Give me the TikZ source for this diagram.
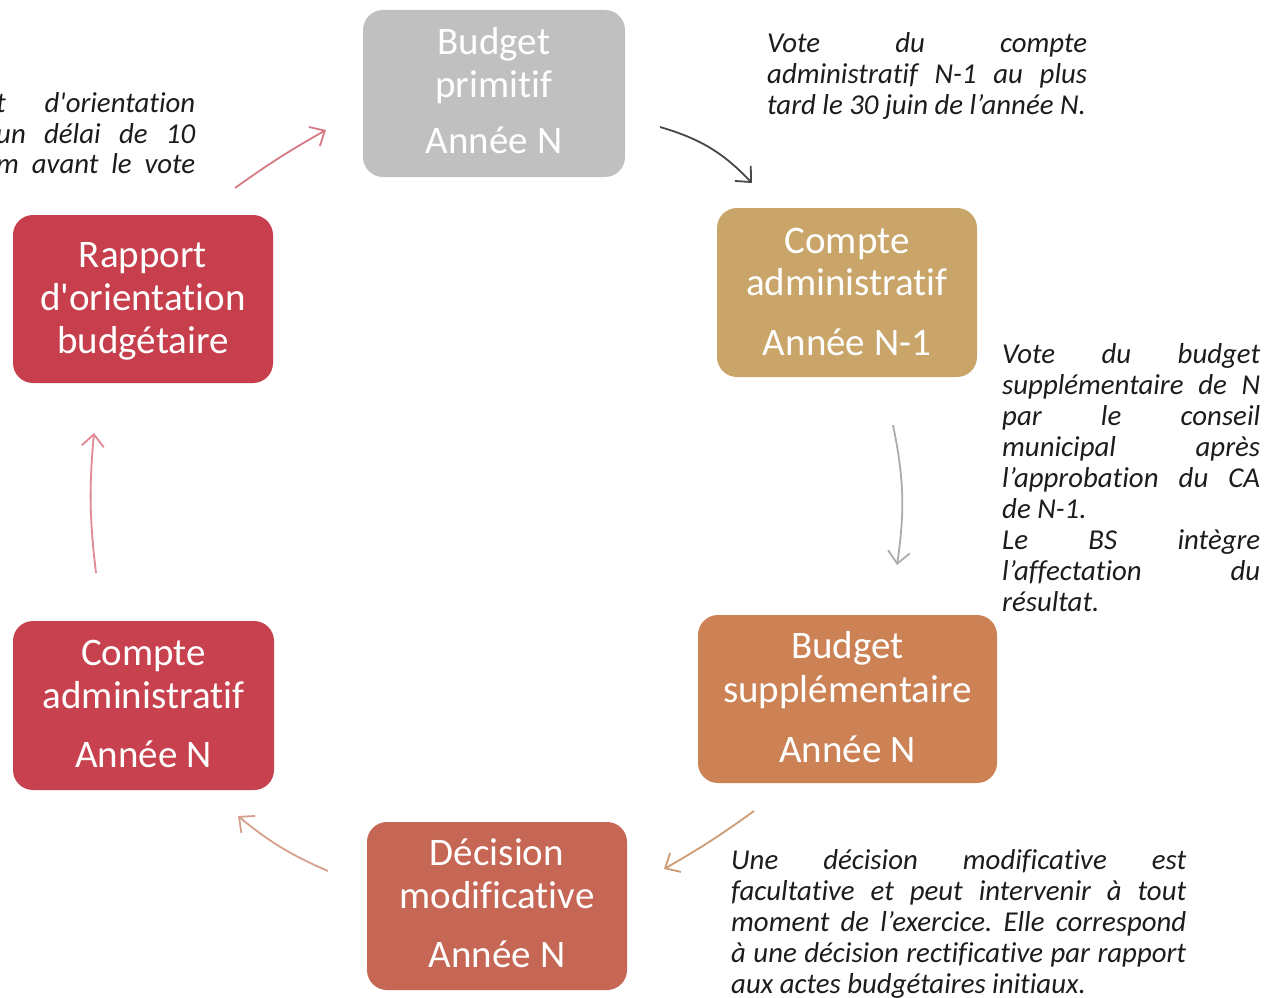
\documentclass[tikz,border=0pt]{standalone}
\usepackage{fontspec}
\setmainfont{Carlito}[Ligatures={TeXOff,NoCommon}]
\usetikzlibrary{arrows.meta}
\definecolor{cbp}{RGB}{192,192,192}
\definecolor{cca}{RGB}{201,165,106}
\definecolor{cbs}{RGB}{204,130,84}
\definecolor{cdm}{RGB}{198,102,84}
\definecolor{ccn}{RGB}{199,66,78}
\definecolor{cra}{RGB}{199,62,76}
\definecolor{notec}{RGB}{28,28,28}
\definecolor{ar1}{RGB}{214,122,134}
\definecolor{ar2}{RGB}{72,72,72}
\definecolor{ar3}{RGB}{172,172,172}
\definecolor{ar4}{RGB}{206,156,116}
\definecolor{ar5}{RGB}{214,160,140}
\definecolor{ar6}{RGB}{224,136,148}
\frenchspacing
\tikzset{
  box/.style={rounded corners=20pt, draw=none, inner sep=0pt},
  boxtext/.style={text=white, inner sep=0pt, anchor=base, font=\fontsize{39}{44}\selectfont},
  note/.style={text=notec, inner sep=0pt, anchor=base west, align=justify,
     font=\fontsize{28.8}{31}\selectfont\itshape\frenchspacing},
  cyc/.style={line width=1.8pt, -{Straight Barb[length=12pt,width=22pt]}}
}
\begin{document}
\begin{tikzpicture}[x=1pt,y=-1pt]
\useasboundingbox[fill=white] (0,0) rectangle (1272,998);
% boxes
\node[box, fill=cbp, minimum width=262pt, minimum height=167pt] (bp) at (494,93.5) {};
\node[box, fill=cca, minimum width=260pt, minimum height=169pt] (ca1) at (847,292.5) {};
\node[box, fill=cbs, minimum width=299pt, minimum height=168pt] (bs) at (847.5,699) {};
\node[box, fill=cdm, minimum width=260pt, minimum height=168pt] (dm) at (497,906) {};
\node[box, fill=ccn, minimum width=261pt, minimum height=169pt] (can) at (143.5,705.5) {};
\node[box, fill=cra, minimum width=260pt, minimum height=168pt] (ra) at (143,299) {};
% box texts
\node[boxtext] (bp1) at (494,55) {Budget};
\node[boxtext] (bp2) at (494,97) {primitif};
\node[boxtext] (bp3) at (494,153) {Année N};
\node[boxtext] (ca11) at (847,253) {Compte};
\node[boxtext] (ca12) at (847,295) {administratif};
\node[boxtext] (ca13) at (847,355) {Année N-1};
\node[boxtext] (bs1) at (847.5,658) {Budget};
\node[boxtext] (bs2) at (847.5,702) {supplémentaire};
\node[boxtext] (bs3) at (847.5,762) {Année N};
\node[boxtext] (dm1) at (497,865) {Décision};
\node[boxtext] (dm2) at (497,908) {modificative};
\node[boxtext] (dm3) at (497,967) {Année N};
\node[boxtext] (can1) at (143.5,665) {Compte};
\node[boxtext] (can2) at (143.5,708) {administratif};
\node[boxtext] (can3) at (143.5,767) {Année N};
\node[boxtext] (ra1) at (143,267) {Rapport};
\node[boxtext] (ra2) at (143,310) {d'orientation};
\node[boxtext] (ra3) at (143,353) {budgétaire};
% notes
\node[note, text width=320pt] (ntr) at (767,53) {\tolerance=10000\hyphenpenalty=10000 Vote du compte\linebreak administratif N-1 au plus\linebreak tard le 30 juin de l’année N.};
\node[note, text width=258pt] (nr) at (1002,363) {\tolerance=10000\hyphenpenalty=10000 Vote du budget\linebreak supplémentaire de N\linebreak par le conseil\linebreak municipal après\linebreak l’approbation du CA\linebreak de N-1.\par Le BS intègre\linebreak l’affectation du\linebreak résultat.};
\node[note, text width=455pt] (nbr) at (731,869) {\tolerance=10000\hyphenpenalty=10000 Une décision modificative est\linebreak facultative et peut intervenir à tout\linebreak moment de l’exercice. Elle correspond\linebreak à une décision rectificative par rapport\linebreak aux actes budgétaires initiaux.};
\node[note, text width=199pt] (ntl) at (-4,112) {\tolerance=10000\hyphenpenalty=10000 t d'orientation\linebreak un délai de 10\linebreak m avant le vote\parfillskip=0pt\par};
% arrow end points
\coordinate (a1s) at (235,188); \coordinate (a1e) at (326,130);
\coordinate (a2s) at (660,127); \coordinate (a2e) at (752,183);
\coordinate (a3s) at (893,425); \coordinate (a3e) at (897,565);
\coordinate (a4s) at (754,811); \coordinate (a4e) at (664,869);
\coordinate (a5s) at (328,871); \coordinate (a5e) at (238,816);
\coordinate (a6s) at (96,573);  \coordinate (a6e) at (94,433);
\draw[cyc, ar1] (a1s) to[bend left=3] (a1e);
\draw[cyc, ar2] (a2s) to[bend left=15] (a2e);
\draw[cyc, ar3] (a3s) to[bend left=10] (a3e);
\draw[cyc, ar4] (a4s) to[bend left=3] (a4e);
\draw[cyc, ar5] (a5s) to[bend left=8] (a5e);
\draw[cyc, ar6] (a6s) to[bend left=6] (a6e);
\end{tikzpicture}
\end{document}
